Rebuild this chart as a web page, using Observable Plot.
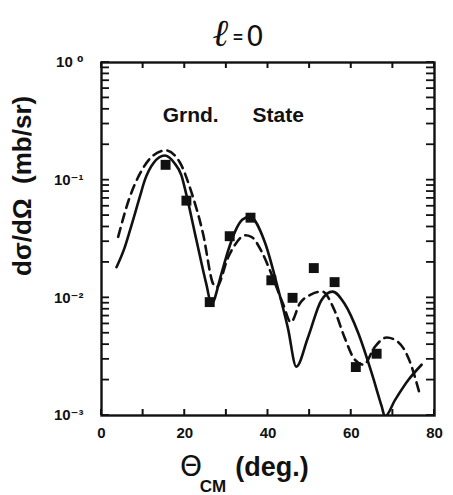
<!DOCTYPE html>
<html>
<head>
<meta charset="utf-8">
<script src="https://cdn.jsdelivr.net/npm/d3@7"></script>
<script src="https://cdn.jsdelivr.net/npm/@observablehq/plot@0.6"></script>
<style>
  body { margin: 0; background: #fff; }
</style>
</head>
<body>
<div id="chart"></div>
<script>
// Measured angular distribution (filled squares)
const dataAngle = [15.4, 20.4, 26.0, 30.8, 35.8, 40.8, 45.9, 51.0, 56.0, 61.1, 66.1];
const dataXsec  = [0.135, 0.067, 0.0092, 0.0334, 0.048, 0.0141, 0.0100, 0.0179, 0.0136, 0.00258, 0.00335];

// Calculation, solid curve
const solidAngle = [3.6, 5.6, 6.8, 9.2, 10.4, 12.5, 15.2, 17.5, 19.2, 20.4, 22.8, 25.2, 26.4,
  28.8, 30.4, 32.0, 33.8, 35.6, 39.2, 42.4, 44.8, 46.8, 49.6, 52.8, 55.5, 58.4, 61.7, 64.9,
  67.3, 68.1, 70.5, 73.7, 76.9];
const solidXsec = [0.0182, 0.027, 0.037, 0.072, 0.10, 0.14, 0.162, 0.14, 0.11, 0.075, 0.031, 0.013, 0.0089,
  0.016, 0.025, 0.036, 0.046, 0.049, 0.030, 0.012, 0.0055, 0.0026, 0.0046, 0.0095, 0.0113, 0.0089, 0.005, 0.0023,
  0.0012, 0.00098, 0.00135, 0.0020, 0.0027];

// Calculation, dashed curve
const dashedAngle = [4.0, 6.8, 9.2, 12.4, 15.4, 18.8, 21.6, 24.4, 26.8, 27.6, 30.4, 32.0, 34.5, 36.0,
  38.4, 40.8, 43.6, 45.5, 47.6, 50.4, 53.0, 56.0, 58.4, 60.8, 63.0, 65.6, 68.5, 71.3, 73.7, 76.5];
const dashedXsec = [0.033, 0.072, 0.113, 0.162, 0.179, 0.142, 0.079, 0.035, 0.0132, 0.0123, 0.022, 0.028, 0.034, 0.033,
  0.025, 0.016, 0.0089, 0.0062, 0.0089, 0.0107, 0.0113, 0.0078, 0.0046, 0.0030, 0.0027, 0.0038, 0.0046, 0.0042, 0.0031, 0.0015];

// Axis ticks and labels
const xTicks = [0, 10, 20, 30, 40, 50, 60, 70, 80];
const xLabelValues = [0, 20, 40, 60, 80];
const xLabelText = ["0", "20", "40", "60", "80"];
const yTicks = [0.001, 0.002, 0.003, 0.004, 0.005, 0.006, 0.007, 0.008, 0.009,
  0.01, 0.02, 0.03, 0.04, 0.05, 0.06, 0.07, 0.08, 0.09,
  0.1, 0.2, 0.3, 0.4, 0.5, 0.6, 0.7, 0.8, 0.9, 1];
const yLabelValues = [0.001, 0.01, 0.1, 1];
const yLabelText = ["10\u207B\u00B3", "10\u207B\u00B2", "10\u207B\u00B9", "10 \u2070"];

// In-plot annotation
const noteText = ["Grnd.", "State"];
const noteAngle = [14.7, 36.3];
const noteXsec = [0.355, 0.355];

const points = dataAngle.map((a, i) => ({angle: a, xsec: dataXsec[i]}));
const solid = solidAngle.map((a, i) => ({angle: a, xsec: solidXsec[i]}));
const dashed = dashedAngle.map((a, i) => ({angle: a, xsec: dashedXsec[i]}));
const notes = noteText.map((t, i) => ({text: t, angle: noteAngle[i], xsec: noteXsec[i]}));

const font = "'Liberation Sans', 'DejaVu Sans', sans-serif";
const ink = "#111";

const W = 453, H = 495, mL = 101, mR = 19, mT = 62, mB = 80;
const xTickLen = 6, yTickLen = 8;

const chart = Plot.plot({
  width: W,
  height: H,
  marginLeft: mL,
  marginRight: mR,
  marginTop: mT,
  marginBottom: mB,
  style: {fontFamily: font, background: "#fff", color: ink, overflow: "visible"},
  x: {domain: [0, 80], axis: null},
  y: {type: "log", domain: [0.001, 1], axis: null},
  marks: [
    // tick labels
    Plot.axisX(xLabelValues, {anchor: "bottom", tickSize: 0, tickPadding: 12, label: null,
      tickFormat: d => xLabelText[xLabelValues.indexOf(d)], fontSize: 15, fontWeight: "bold", fill: ink}),
    Plot.text(yLabelValues, {y: d => d, frameAnchor: "left", dx: -18, textAnchor: "end",
      text: d => yLabelText[yLabelValues.indexOf(d)], fontSize: 15, fontWeight: "bold", fill: ink}),
    // curves
    Plot.line(dashed, {x: "angle", y: "xsec", curve: "monotone-x", stroke: ink, strokeWidth: 2.6,
      strokeDasharray: "9,6", clip: true}),
    Plot.line(solid, {x: "angle", y: "xsec", curve: "monotone-x", stroke: ink, strokeWidth: 2.6, clip: true}),
    // data
    Plot.dot(points, {x: "angle", y: "xsec", symbol: "square", r: 5.6, fill: ink, stroke: null}),
    // annotation
    Plot.text(notes, {x: "angle", y: "xsec", text: "text", textAnchor: "start", fontSize: 21,
      fontWeight: "bold", fill: ink}),
    // title
    Plot.text(["\u2113"], {frameAnchor: "top", dx: -47, dy: -17, lineAnchor: "bottom", fontSize: 38,
      fontFamily: "'DejaVu Serif', serif", fontStyle: "italic", fontWeight: "bold", fill: ink}),
    Plot.text(["="], {frameAnchor: "top", dx: -30, dy: -20, lineAnchor: "bottom", fontSize: 17,
      fontWeight: "bold", fill: ink}),
    Plot.text(["0"], {frameAnchor: "top", dx: -13, dy: -17, lineAnchor: "bottom", fontSize: 28,
      fontFamily: "'DejaVu Sans', sans-serif", fill: ink}),
    // y label
    Plot.text(["d\u03C3/d\u03A9  (mb/sr)"], {frameAnchor: "left", dx: -79, dy: 37, rotate: -90,
      fontSize: 26, fontWeight: "bold", fill: ink}),
    // x label
    Plot.text(["\u0398"], {frameAnchor: "bottom", dx: -77, dy: 60, lineAnchor: "bottom", fontSize: 28,
      fontFamily: "'DejaVu Sans', sans-serif", fill: ink}),
    Plot.text(["CM"], {frameAnchor: "bottom", dx: -55, dy: 76, lineAnchor: "bottom", fontSize: 17,
      fontWeight: "bold", fill: ink}),
    Plot.text(["(deg.)"], {frameAnchor: "bottom", dx: 4, dy: 60, lineAnchor: "bottom", fontSize: 27,
      fontWeight: "bold", fill: ink}),
    Plot.frame({stroke: ink, strokeWidth: 2.4})
  ]
});

// Inward-pointing ticks on all four edges, placed with the chart's own x and y scales
const sx = chart.scale("x"), sy = chart.scale("y");
const x0 = sx.apply(0), x1 = sx.apply(80), y0 = sy.apply(0.001), y1 = sy.apply(1);
const tickLayer = d3.select(chart).append("g")
  .attr("aria-label", "edge ticks")
  .attr("stroke", ink)
  .attr("stroke-linecap", "butt");
const edgeTicks = [
  ...xTicks.map(v => ({xa: sx.apply(v), xb: sx.apply(v), ya: y0, yb: y0 - xTickLen, w: 2})),
  ...xTicks.map(v => ({xa: sx.apply(v), xb: sx.apply(v), ya: y1, yb: y1 + xTickLen, w: 2})),
  ...yTicks.map(v => ({xa: x0, xb: x0 + yTickLen, ya: sy.apply(v), yb: sy.apply(v), w: 1.8})),
  ...yTicks.map(v => ({xa: x1, xb: x1 - yTickLen, ya: sy.apply(v), yb: sy.apply(v), w: 1.8}))
];
tickLayer.selectAll("line")
  .data(edgeTicks)
  .join("line")
  .attr("x1", d => d.xa).attr("x2", d => d.xb)
  .attr("y1", d => d.ya).attr("y2", d => d.yb)
  .attr("stroke-width", d => d.w);

document.getElementById("chart").append(chart);
</script>
</body>
</html>
